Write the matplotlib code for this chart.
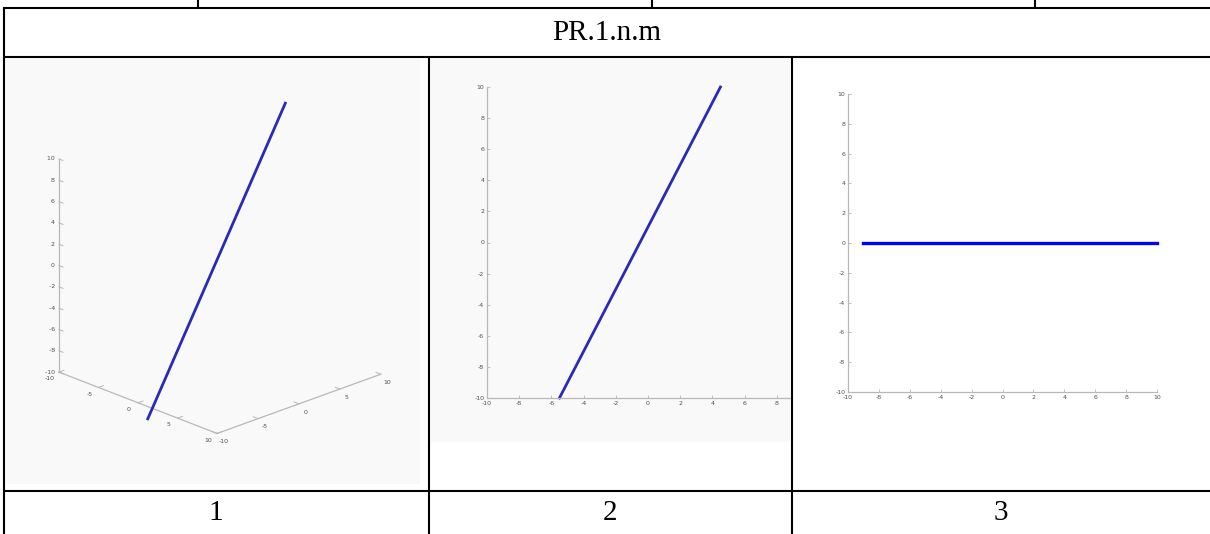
import numpy as np
import matplotlib.pyplot as plt
from matplotlib.lines import Line2D
from matplotlib.patches import Rectangle
from mpl_toolkits.mplot3d import proj3d

plt.rcParams["axes.unicode_minus"] = False

W, H = 1210, 534

# dados das tres vistas da reta
titulo = "PR.1.n.m"
rotulos = ["1", "2", "3"]

# vista 3D (x, y, z)
reta3d_x = [3.3, -5.6]
reta3d_y = [-12.0, 13.4]
reta3d_z = [-10.0, 10.0]

# vista 2
reta2_x = [-5.5, 4.5]
reta2_y = [-10.0, 10.0]

# vista 3
reta3_x = [-9.0, 10.0]
reta3_y = [0.0, 0.0]

ticks_2d = list(range(-10, 11, 2))
ticks_3d = [-10, -5, 0, 5, 10]


def fx(x):
    return x / W


def fy(y):
    return 1 - y / H


def caixa(x0, y0, x1, y1):
    # posicao de um eixo dada em pixels
    return [fx(x0), fy(y1), (x1 - x0) / W, (y1 - y0) / H]


fig = plt.figure(figsize=(W / 100, H / 100), dpi=100)
fig.patch.set_facecolor("white")

cinza_eixo = "#b8b8b8"
cinza_txt = "#505050"
fs_tick = 4.5

# fundo levemente acinzentado das capturas (atras dos eixos)
fig.add_artist(Rectangle((fx(6), fy(484)), (420 - 6) / W, (484 - 59) / H, zorder=-5,
                         transform=fig.transFigure, facecolor="#f9f9f9", edgecolor="none"))
fig.add_artist(Rectangle((fx(431), fy(442)), (790 - 431) / W, (442 - 59) / H, zorder=-5,
                         transform=fig.transFigure, facecolor="#f9f9f9", edgecolor="none"))

# ---- vista 1: 3D ----
ax1 = fig.add_axes(caixa(14.5, 72, 414.5, 472), projection="3d", proj_type="ortho")
ax1.patch.set_visible(False)
ax1.set_axis_off()
ax1.view_init(elev=22, azim=-44)
ax1.set_xlim(-10, 10)
ax1.set_ylim(-10, 10)
ax1.set_zlim(-10, 10)
ax1.set_box_aspect((1, 1, 1.01), zoom=0.96)
M = ax1.get_proj()


def rotulo3d(x, y, z, s, **kw):
    # escreve o texto no ponto projetado, como texto 2D do eixo
    px, py, _ = proj3d.proj_transform(x, y, z, M)
    ax1.text2D(px, py, s, transform=ax1.transData, fontsize=fs_tick,
               color=cinza_txt, **kw)


# linhas dos eixos
ax1.plot([-10, 10], [-10, -10], [-10, -10], color=cinza_eixo, lw=0.9)
ax1.plot([10, 10], [-10, 10], [-10, -10], color=cinza_eixo, lw=0.9)
ax1.plot([-10, -10], [-10, -10], [-10, 10], color=cinza_eixo, lw=0.9)
for t in ticks_3d:
    ax1.plot([t, t], [-10, -9.4], [-10, -10], color=cinza_eixo, lw=0.7)
    rotulo3d(t + 0.6, -11.7, -10, str(t), ha="center", va="center")
    ax1.plot([10, 9.4], [t, t], [-10, -10], color=cinza_eixo, lw=0.7)
    rotulo3d(11.8, t - 0.9, -10, str(t), ha="center", va="center")
for t in ticks_2d:
    ax1.plot([-10, -9.5], [-10, -10], [t, t], color=cinza_eixo, lw=0.7)
    rotulo3d(-10, -10, t, str(t) + "  ", ha="right", va="center")

ax1.plot(reta3d_x, reta3d_y, reta3d_z, color="#2a2ab8", lw=2)


# ---- vistas 2D ----
def eixo_2d(ax, xlim):
    ax.set_xlim(*xlim)
    ax.set_ylim(-10, 10)
    ax.set_xticks([t for t in ticks_2d if t <= xlim[1]])
    ax.set_yticks(ticks_2d)
    ax.patch.set_visible(False)
    for lado in ["top", "right"]:
        ax.spines[lado].set_visible(False)
    for lado in ["left", "bottom"]:
        ax.spines[lado].set_color(cinza_eixo)
        ax.spines[lado].set_linewidth(0.9)
    ax.tick_params(direction="in", length=2, width=0.6, color=cinza_eixo,
                   labelsize=fs_tick, labelcolor=cinza_txt, pad=2)


ax2 = fig.add_axes(caixa(487, 87, 790, 398))
eixo_2d(ax2, (-10, -10 + (790 - 487) / 16.1))
ax2.plot(reta2_x, reta2_y, color="#2a2ab8", lw=2, clip_on=False)

ax3 = fig.add_axes(caixa(848, 94, 1157, 392))
eixo_2d(ax3, (-10, 10))
ax3.plot(reta3_x, reta3_y, color="#0000ff", lw=2.4, clip_on=False)

# ---- tabela ----
lw_tab = 1.5


def linha(x0, y0, x1, y1):
    fig.add_artist(Line2D([fx(x0), fx(x1)], [fy(y0), fy(y1)], color="black",
                          lw=lw_tab, transform=fig.transFigure, solid_capstyle="butt"))


linha(4, 7.5, W, 7.5)
linha(4, 57, W, 57)
linha(4, 491, W, 491)
linha(4, 7, 4, H)
for xv in [198, 652, 1035]:
    linha(xv, 0, xv, 7.5)
for xv in [429, 792]:
    linha(xv, 57, xv, H)

fonte = "Liberation Serif"
fig.text(fx(607), fy(33), titulo, fontsize=21, family=fonte, ha="center", va="center")
for xc, r in zip([216, 610, 1001], rotulos):
    fig.text(fx(xc), fy(513), r, fontsize=21, family=fonte, ha="center", va="center")

fig.savefig("out.png", dpi=100)
